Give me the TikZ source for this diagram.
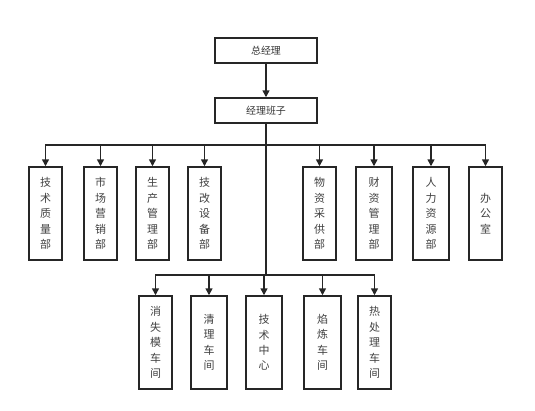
\documentclass[tikz,border=0pt]{standalone}
\usepackage{fontspec}
\newfontfamily\cjk{Noto Sans CJK SC}
\usetikzlibrary{arrows.meta}
\begin{document}
\begin{tikzpicture}[x=1bp,y=-1bp]
        \tikzstyle{head}=[draw=black!85,line width=1.5bp,minimum width=102bp,minimum height=25bp,inner sep=0pt,text=black!80,font=\cjk\fontsize{10}{12}\selectfont]
        \tikzstyle{dept}=[draw=black!85,line width=1.5bp,minimum width=33bp,minimum height=93bp,inner sep=0pt,align=center,text=black!75,font=\cjk\fontsize{11}{15.5}\selectfont]
        \tikzstyle{edge}=[draw=black!85,line width=1.5bp,-{Triangle[width=7bp,length=7bp]}]
        \tikzstyle{trunk}=[draw=black!85,line width=1.5bp]
        \useasboundingbox (0,0) rectangle (535,410);
       \begin{scope}
         \node [head] (gm) at (266,50.5) {总经理};
         \node [head] (team) at (266,110.5) {经理班子};
         \coordinate (j1) at (266,145);
         \coordinate (j2) at (266,275);
         % upper row
         \node [dept] (d1) at (45.5,213.5) {技\\术\\质\\量\\部};
         \node [dept] (d2) at (100.5,213.5) {市\\场\\营\\销\\部};
         \node [dept] (d3) at (152.5,213.5) {生\\产\\管\\理\\部};
         \node [dept] (d4) at (204.5,213.5) {技\\改\\设\\备\\部};
         \node [dept] (d5) at (319.5,213.5) {物\\资\\采\\供\\部};
         \node [dept,minimum width=36bp] (d6) at (374,213.5) {财\\资\\管\\理\\部};
         \node [dept,minimum width=36bp] (d7) at (431,213.5) {人\\力\\资\\源\\部};
         \node [dept] (d8) at (485.5,213.5) {办\\公\\室};
         % lower row
         \node [dept] (w1) at (155.5,342.5) {消\\失\\模\\车\\间};
         \node [dept,minimum width=36bp] (w2) at (209,342.5) {清\\理\\车\\间};
         \node [dept,minimum width=36bp] (w3) at (264,342.5) {技\\术\\中\\心};
         \node [dept,minimum width=37bp] (w4) at (322.5,342.5) {焰\\炼\\车\\间};
         \node [dept] (w5) at (374.5,342.5) {热\\处\\理\\车\\间};
         \path[edge] (gm) -- (team);
         \path[trunk] (team.south) -- (j2);
         \foreach \d in {d1,d2,d3,d4,d5,d6,d7,d8}
           \path[edge] (j1) -| (\d.north);
         \foreach \w in {w1,w2,w3,w4,w5}
           \path[edge] (j2) -| (\w.north);
        \end{scope}
      \end{tikzpicture}
\end{document}
